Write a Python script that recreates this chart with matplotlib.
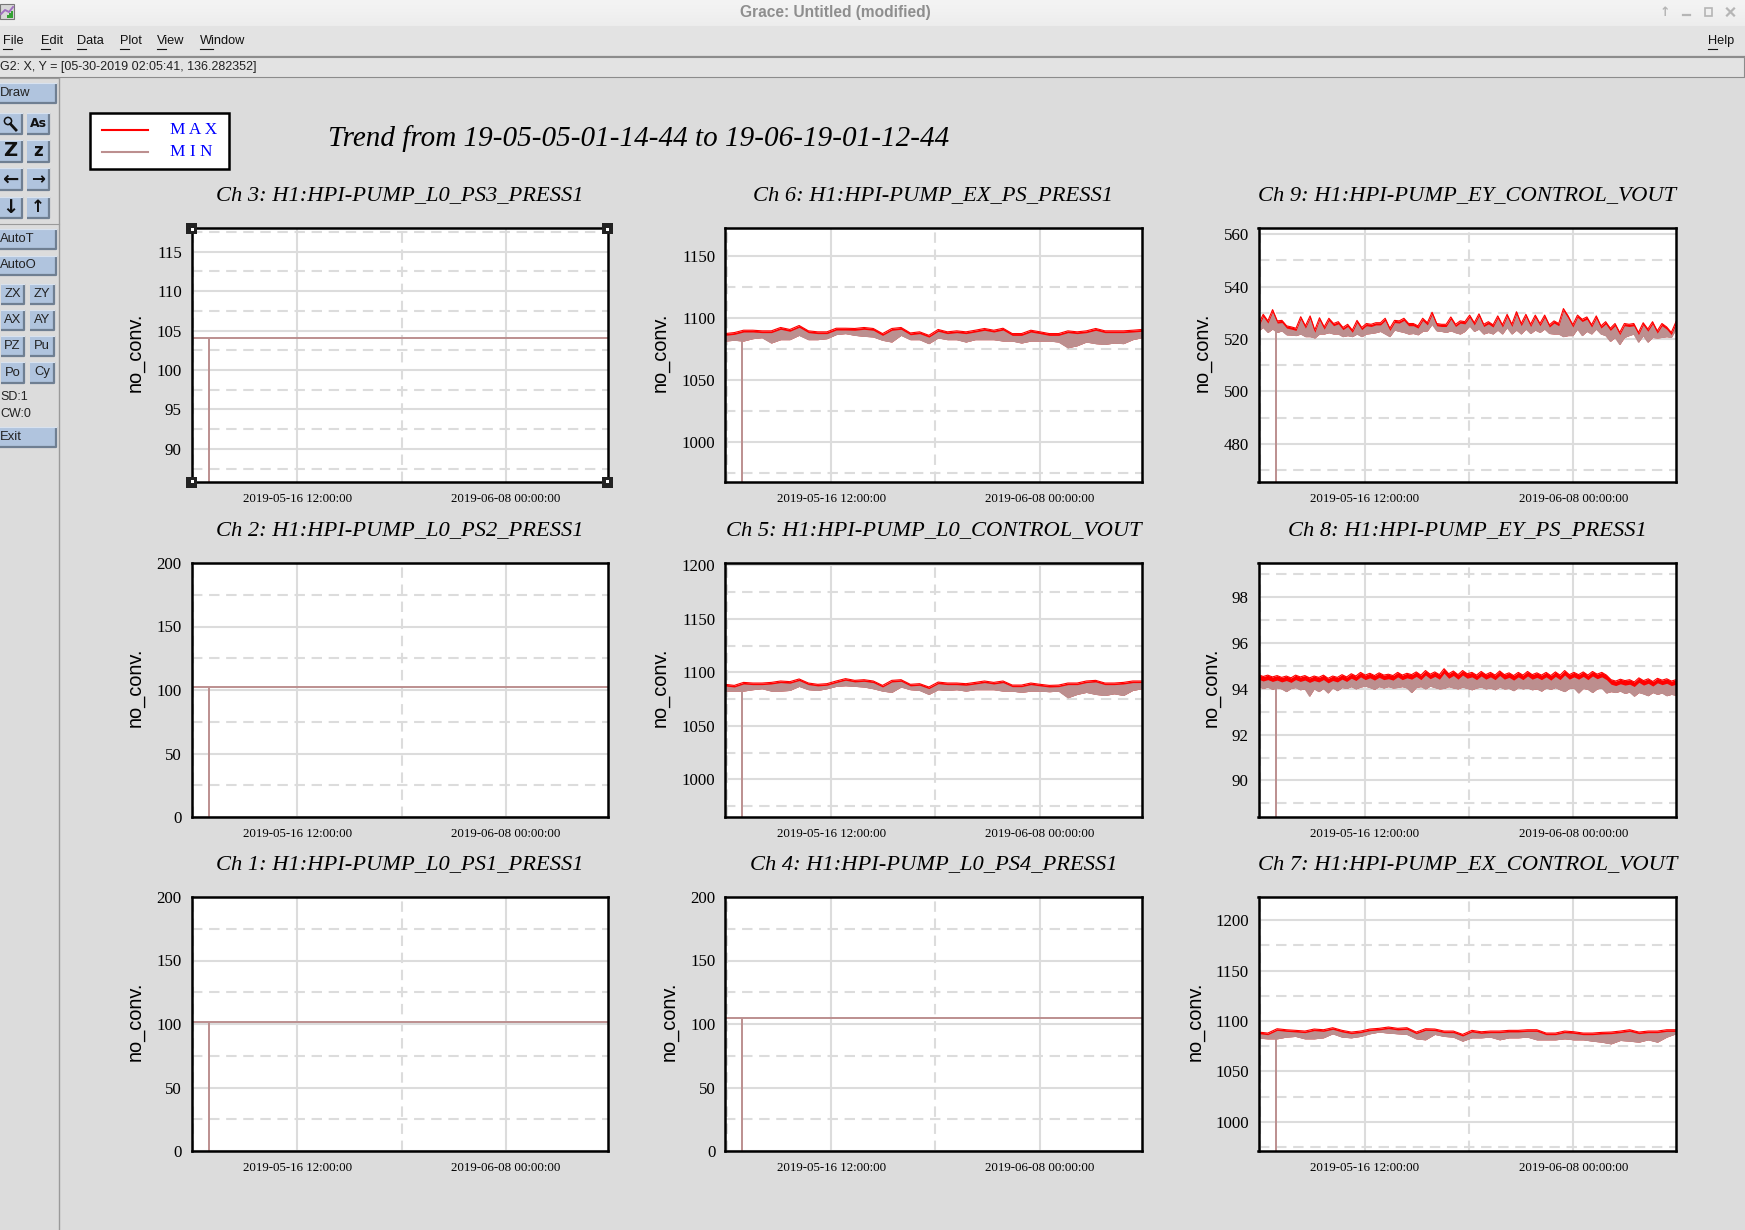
"""Grace window with the pump trend plots, 3x3 panels."""

from datetime import datetime

import matplotlib

matplotlib.use("Agg")
import matplotlib.dates as mdates
import matplotlib.pyplot as plt
import numpy as np
from matplotlib.patches import Circle, Rectangle

W, H = 1745, 1230

BG = "#dcdcdc"
MENU_BG = "#e3e3e3"
BUTTON = "#b0c4de"
MAX_COLOR = "#ff0000"
MIN_COLOR = "#bc8f8f"
SERIF = "Liberation Serif"
SANS = "Liberation Sans"

TITLE = "Trend from 19-05-05-01-14-44 to 19-06-19-01-12-44"

START = datetime(2019, 5, 5, 1, 14, 44)
END = datetime(2019, 6, 19, 1, 12, 44)
MAJOR_TICKS = [datetime(2019, 5, 16, 12), datetime(2019, 6, 8, 0)]
MINOR_TICKS = [datetime(2019, 5, 5, 6), datetime(2019, 5, 27, 18)]
DROPOUT_DAY = 1.87

# flat channels, only a level and the dropout
CH3_LEVEL = 104.0
CH2_LEVEL = 102.6
CH1_LEVEL = 101.8
CH4_LEVEL = 104.4

CH6_MAX = [1087.5, 1088.3, 1090.2, 1090.2, 1089.7, 1089.7, 1092.4, 1090.8, 1094.0, 1089.7, 1088.9, 1088.9,
           1091.8, 1091.8, 1091.6, 1092.4, 1091.6, 1087.5, 1091.6, 1092.4, 1088.0, 1088.9, 1086.1, 1090.8,
           1088.9, 1089.7, 1088.9, 1090.2, 1091.6, 1090.2, 1091.8, 1087.5, 1087.5, 1090.2, 1088.9, 1087.5,
           1087.5, 1089.7, 1088.9, 1089.7, 1091.6, 1089.7, 1089.7, 1089.7, 1090.2, 1090.8]
CH6_MIN = [1081.5, 1082.1, 1081.5, 1083.4, 1084.2, 1079.9, 1082.6, 1082.6, 1086.1, 1082.6, 1082.6, 1083.4,
           1086.7, 1087.5, 1086.1, 1085.3, 1084.8, 1082.1, 1080.7, 1086.1, 1082.6, 1082.6, 1079.4, 1084.0,
           1082.6, 1082.6, 1080.7, 1082.6, 1082.6, 1082.6, 1081.5, 1081.5, 1079.9, 1081.5, 1081.5, 1081.5,
           1080.7, 1076.1, 1077.7, 1080.7, 1079.4, 1078.8, 1079.9, 1079.4, 1082.6, 1084.2]

CH5_MAX = [1088.8, 1087.8, 1090.6, 1090.0, 1090.0, 1090.6, 1091.9, 1091.3, 1093.8, 1090.0, 1088.8, 1089.4,
           1091.9, 1094.1, 1092.5, 1093.1, 1091.9, 1087.8, 1092.5, 1093.1, 1088.8, 1089.4, 1086.3, 1090.9,
           1090.0, 1090.0, 1089.4, 1090.6, 1091.9, 1090.6, 1091.9, 1088.1, 1088.1, 1090.0, 1088.8, 1087.8,
           1088.1, 1090.0, 1090.0, 1091.9, 1092.5, 1090.0, 1090.0, 1090.6, 1091.9, 1091.9]
CH5_MIN = [1082.5, 1082.5, 1082.5, 1083.8, 1084.7, 1082.5, 1082.5, 1083.1, 1086.9, 1083.8, 1083.1, 1084.7,
           1086.9, 1087.5, 1086.9, 1086.3, 1084.7, 1082.5, 1081.3, 1086.3, 1083.8, 1083.1, 1079.4, 1083.8,
           1083.1, 1083.8, 1082.5, 1083.8, 1083.8, 1083.8, 1082.5, 1082.5, 1081.3, 1082.5, 1082.5, 1081.9,
           1082.5, 1076.3, 1079.4, 1081.3, 1079.4, 1078.4, 1080.0, 1078.4, 1083.1, 1084.7]

CH7_MAX = [1089.0, 1088.0, 1092.3, 1091.3, 1090.7, 1090.0, 1092.0, 1091.3, 1093.3, 1090.7, 1089.0, 1090.0,
           1092.0, 1092.7, 1094.0, 1092.7, 1093.3, 1089.0, 1092.3, 1092.0, 1090.0, 1090.0, 1086.7, 1090.7,
           1089.3, 1090.0, 1090.0, 1090.7, 1090.7, 1091.3, 1091.3, 1088.0, 1088.0, 1090.0, 1089.3, 1088.0,
           1088.0, 1088.7, 1089.0, 1090.0, 1091.3, 1089.0, 1090.0, 1090.0, 1091.3, 1091.3]
CH7_MIN = [1083.0, 1082.3, 1082.3, 1084.0, 1084.7, 1082.3, 1082.3, 1083.3, 1087.3, 1084.0, 1083.3, 1084.7,
           1087.3, 1089.0, 1088.0, 1087.3, 1086.7, 1082.3, 1081.3, 1086.7, 1084.7, 1084.0, 1080.0, 1083.3,
           1083.3, 1084.0, 1081.3, 1083.3, 1083.3, 1084.0, 1081.3, 1081.3, 1081.3, 1082.3, 1081.3, 1081.3,
           1080.0, 1079.0, 1077.3, 1080.7, 1080.0, 1079.0, 1081.3, 1079.0, 1084.0, 1087.3]

CH8_MAX = [94.62, 94.54, 94.60, 94.52, 94.58, 94.50, 94.56, 94.48, 94.60, 94.52, 94.58, 94.48, 94.56, 94.50,
           94.60, 94.46, 94.56, 94.50, 94.62, 94.52, 94.66, 94.56, 94.72, 94.60, 94.68, 94.58, 94.70, 94.60,
           94.64, 94.58, 94.72, 94.60, 94.68, 94.62, 94.74, 94.60, 94.80, 94.64, 94.74, 94.62, 94.88, 94.66,
           94.78, 94.62, 94.80, 94.66, 94.72, 94.60, 94.76, 94.62, 94.72, 94.60, 94.78, 94.62, 94.70, 94.58,
           94.72, 94.60, 94.76, 94.62, 94.70, 94.60, 94.72, 94.58, 94.74, 94.60, 94.80, 94.62, 94.72, 94.62,
           94.74, 94.60, 94.76, 94.64, 94.72, 94.60, 94.40, 94.34, 94.42, 94.36, 94.40, 94.30, 94.48, 94.36,
           94.44, 94.32, 94.46, 94.38, 94.44, 94.34, 94.40]
CH8_MIN = [94.10, 94.02, 94.08, 93.98, 94.05, 94.00, 93.88, 94.02, 94.06, 93.96, 94.00, 93.68, 94.00, 93.88,
           94.02, 93.82, 94.05, 93.92, 94.06, 94.02, 94.10, 94.00, 94.08, 94.12, 94.06, 93.98, 94.10, 94.04,
           94.10, 94.04, 94.06, 94.10, 94.04, 93.84, 94.06, 94.10, 94.00, 94.12, 94.06, 94.00, 94.02, 94.10,
           94.04, 94.00, 94.08, 94.02, 93.96, 94.04, 94.08, 94.00, 94.04, 93.96, 94.08, 94.00, 94.02, 93.92,
           94.06, 94.00, 94.04, 93.96, 94.00, 93.90, 94.04, 93.98, 94.06, 93.96, 93.88, 94.02, 94.04, 93.82,
           94.02, 93.98, 93.84, 94.00, 94.04, 93.82, 93.88, 93.84, 93.90, 93.80, 93.86, 93.68, 93.84, 93.78,
           93.70, 93.84, 93.76, 93.82, 93.70, 93.76, 93.72]

CH9_MAX = [525.6, 529.4, 526.9, 531.2, 526.9, 527.1, 525.0, 524.6, 524.1, 528.5, 525.0, 528.8, 523.4, 528.1,
           524.6, 527.9, 525.9, 526.6, 524.4, 525.6, 523.4, 527.1, 524.4, 525.9, 525.6, 526.2, 526.2, 527.9,
           524.1, 527.1, 526.9, 527.9, 525.9, 525.9, 525.0, 527.9, 526.2, 530.2, 525.9, 525.6, 525.6, 528.4,
           525.6, 526.9, 526.6,
           529.1, 526.2, 529.6, 525.6, 526.6, 525.4, 528.8, 525.4, 529.4, 525.6, 530.4, 525.9, 529.4, 525.6,
           529.1, 525.9, 529.1, 525.4, 526.9, 525.9, 531.6, 528.8, 525.4, 529.1, 527.5, 528.4, 525.4, 528.8,
           525.0, 526.6, 524.1, 525.9, 522.5, 525.9, 525.6, 525.9, 522.5, 526.2, 523.8, 526.6, 523.1, 525.9,
           524.6, 522.5, 526.6]
CH9_MIN = [523.1, 524.4, 522.5, 523.8, 522.5, 523.1, 521.6, 521.5, 521.3, 521.9, 520.9, 520.9, 520.4, 521.9,
           521.9, 522.4, 521.9, 521.9, 520.9, 521.3, 520.9, 521.9, 520.9, 521.9, 522.1, 522.4, 522.9, 521.9,
           520.9, 523.4, 522.9, 522.5, 521.9, 522.1, 521.6, 522.9, 523.1, 525.6, 523.1, 522.9, 522.5, 523.1,
           522.4, 521.9, 522.9,
           525.0, 522.9, 523.8, 521.9, 522.5, 521.9, 523.4, 521.9, 524.4, 521.9, 523.4, 521.9, 523.8, 522.1,
           523.4, 522.5, 523.8, 522.1, 521.9, 521.9, 520.9, 521.3, 521.3, 523.8, 521.3, 522.9, 521.9, 523.8,
           521.9, 521.3, 519.1, 520.6, 517.9, 520.6, 521.3, 521.9, 518.8, 521.3, 518.8, 520.6, 520.4, 520.6,
           520.9, 520.6, 523.8]

# name, pixel box (left, top, right, bottom), ylim, major step, ylabel x pixel, level or max, min, red px
PANELS = [
    ("Ch 3: H1:HPI-PUMP_L0_PS3_PRESS1", (191.5, 228, 608, 482), (85.8, 118.0), 5, 135, CH3_LEVEL, None, 0),
    ("Ch 6: H1:HPI-PUMP_EX_PS_PRESS1", (725, 228, 1142, 482), (968, 1172.5), 50, 660, CH6_MAX, CH6_MIN, 1.8),
    ("Ch 9: H1:HPI-PUMP_EY_CONTROL_VOUT", (1258.5, 228, 1676, 482), (465.5, 562.3), 20, 1202, CH9_MAX, CH9_MIN, 2.2),
    ("Ch 2: H1:HPI-PUMP_L0_PS2_PRESS1", (191.5, 563, 608, 817), (0, 200), 50, 135, CH2_LEVEL, None, 0),
    ("Ch 5: H1:HPI-PUMP_L0_CONTROL_VOUT", (725, 563, 1142, 817), (965, 1202), 50, 660, CH5_MAX, CH5_MIN, 1.6),
    ("Ch 8: H1:HPI-PUMP_EY_PS_PRESS1", (1258.5, 563, 1676, 817), (88.4, 99.5), 2, 1211, CH8_MAX, CH8_MIN, 4.5),
    ("Ch 1: H1:HPI-PUMP_L0_PS1_PRESS1", (191.5, 897, 608, 1151), (0, 200), 50, 135, CH1_LEVEL, None, 0),
    ("Ch 4: H1:HPI-PUMP_L0_PS4_PRESS1", (725, 897, 1142, 1151), (0, 200), 50, 669, CH4_LEVEL, None, 0),
    ("Ch 7: H1:HPI-PUMP_EX_CONTROL_VOUT", (1258.5, 897, 1676, 1151), (971, 1223), 50, 1195, CH7_MAX, CH7_MIN, 1.6),
]


def button(bg, x0, y0, x1, y1, label=None, size=9.4):
    bg.add_patch(Rectangle((x0, y0), x1 - x0, y1 - y0, fc=BUTTON, ec="none"))
    bg.plot([x0, x1, x1], [y1, y1, y0], color="#6f7f92", lw=1.6, solid_capstyle="butt")
    bg.plot([x0, x1], [y0, y0], color="#d8e2ef", lw=0.8)
    if label:
        bg.text(x0 if x0 == 0 else (x0 + x1) / 2, (y0 + y1) / 2, label, fontsize=size, family=SANS,
                va="center", ha="left" if x0 == 0 else "center", color="#222222")


def draw_chrome(bg):
    # title bar
    bg.imshow(np.linspace(0.955, 0.925, 26).reshape(-1, 1), extent=(0, W, 26, 0), aspect="auto",
              cmap="gray", vmin=0, vmax=1, zorder=0)
    bg.set_xlim(0, W)
    bg.set_ylim(H, 0)
    bg.add_patch(Rectangle((0, 26), W, 52, fc=MENU_BG, ec="none"))
    bg.plot([0, W], [55.5, 55.5], color="#8c8c8c", lw=0.9)
    bg.plot([0, W - 1, W - 1, 0], [56.5, 56.5, 76.5, 76.5], color="#8c8c8c", lw=0.8)
    bg.text(835, 13, "Grace: Untitled (modified)", fontsize=11.2, weight="bold", family=SANS, color="#8e8e8e",
            ha="center", va="center")
    # app icon
    bg.add_patch(Rectangle((0, 4), 14, 15, fc="#d8d8d8", ec="#777777", lw=0.8))
    bg.plot([1, 5, 9, 13], [14, 10, 12, 7], color="#a070c0", lw=1.4)
    bg.vlines([8, 10, 12], [15, 13, 11], 18, color="#30a030", lw=1.4)
    bg.text(1665, 12, "\u2191", fontsize=9, weight="bold", color="#b5b5b5", ha="center", va="center")
    bg.plot([1683, 1690], [15, 15], color="#b5b5b5", lw=1.6)
    bg.add_patch(Rectangle((1705.5, 8), 7, 7.5, fc="none", ec="#b5b5b5", lw=1.2))
    bg.plot([1727, 1734], [8.5, 15.5], color="#b5b5b5", lw=1.6)
    bg.plot([1727, 1734], [15.5, 8.5], color="#b5b5b5", lw=1.6)

    for label, x in zip(["File", "Edit", "Data", "Plot", "View", "Window", "Help"],
                        [3, 41, 77, 120, 157, 200, 1708]):
        bg.text(x, 41, label, fontsize=9.2, family=SANS, color="#111111", va="center")
        bg.plot([x, x + (13 if label == "Window" else 9)], [48.5, 48.5], color="#111111", lw=0.8)
    bg.text(0, 67, "G2: X, Y = [05-30-2019 02:05:41, 136.282352]", fontsize=9.0, family=SANS, color="#222222",
            va="center")

    # tool panel down the left
    bg.plot([59.5, 59.5], [78, H], color="#9a9a9a", lw=1)
    bg.plot([0, 59.5], [78, 78], color="#9a9a9a", lw=0.8)
    bg.plot([0, 59.5], [224, 224], color="#9a9a9a", lw=0.8)
    button(bg, 0, 83, 56, 103, "Draw")
    rows = [(113, 134), (140, 162), (168, 190), (197, 218)]
    glyphs = [("", "As"), ("Z", "z"), ("\u2190", "\u2192"), ("\u2193", "\u2191")]
    for (y0, y1), (left, right) in zip(rows, glyphs):
        button(bg, 0, y0, 22, y1)
        button(bg, 27, y0, 49, y1)
        ym = (y0 + y1) / 2
        bg.text(10, ym, left, fontsize=14, weight="bold", family="DejaVu Sans", color="#111111", ha="center",
                va="center")
        bg.text(38, ym, right, fontsize=9 if right == "As" else 12, weight="bold", family="DejaVu Sans",
                color="#111111", ha="center", va="center")
    # magnifier
    bg.add_patch(Circle((8, 121), 3.6, fc="none", ec="#111111", lw=1.1))
    bg.plot([10.5, 16], [124, 130], color="#111111", lw=2)
    button(bg, 0, 229, 56, 249, "AutoT")
    button(bg, 0, 256, 56, 275, "AutoO")
    for (y0, y1), (left, right) in zip([(284, 304), (310, 330), (336, 356), (362, 383)],
                                       [("ZX", "ZY"), ("AX", "AY"), ("PZ", "Pu"), ("Po", "Cy")]):
        button(bg, 1, y0, 24, y1, left)
        button(bg, 30, y0, 54, y1, right)
    bg.text(0, 397, "SD:1", fontsize=9, family=SANS, color="#222222", va="center")
    bg.text(0, 414, "CW:0", fontsize=9, family=SANS, color="#222222", va="center")
    button(bg, 0, 427, 56, 447, "Exit")

    # legend box
    bg.add_patch(Rectangle((90, 113), 139, 56, fc="white", ec="black", lw=1.8, zorder=3))
    bg.plot([102, 148], [129.5, 129.5], color=MAX_COLOR, lw=1.5, zorder=4)
    bg.plot([102, 148], [152, 152], color=MIN_COLOR, lw=1.5, zorder=4)
    bg.text(170, 130, "M A X", fontsize=12.4, family=SERIF, color="blue", va="center", zorder=4)
    bg.text(170, 152.5, "M I N", fontsize=12.4, family=SERIF, color="blue", va="center", zorder=4)

    bg.text(328, 139, TITLE, fontsize=21, family=SERIF, style="italic", color="black", va="center")


def draw_panel(fig, bg, name, box, ylim, step, label_x, maxs, mins, red_px):
    left, top, right, bottom = box
    ax = fig.add_axes([left / W, 1 - bottom / H, (right - left) / W, (bottom - top) / H], zorder=2)
    ax.set_xlim(mdates.date2num(START), mdates.date2num(END))
    ax.set_ylim(*ylim)

    first = np.ceil(ylim[0] / step) * step
    majors = np.arange(first, ylim[1] + step * 0.01, step)
    minors = np.arange(first - step / 2, ylim[1], step)
    minors = minors[minors > ylim[0]]
    ax.set_yticks(majors)
    ax.set_yticks(minors, minor=True)
    ax.set_xticks(mdates.date2num(MAJOR_TICKS))
    ax.set_xticks(mdates.date2num(MINOR_TICKS), minor=True)
    ax.xaxis.set_major_formatter(mdates.DateFormatter("%Y-%m-%d %H:%M:%S"))
    ax.yaxis.set_major_formatter(lambda v, _: f"{v:g}")
    ax.tick_params(which="both", length=0)
    ax.tick_params(axis="x", labelsize=9.25, pad=8)
    ax.tick_params(axis="y", labelsize=12.2, pad=7)
    for lab in ax.get_xticklabels() + ax.get_yticklabels():
        lab.set_family(SERIF)
    ax.grid(which="major", color=BG, lw=1.5)
    ax.grid(which="minor", color=BG, lw=1.5, linestyle=(0, (5, 3.2)))
    ax.set_axisbelow(True)
    for sp in ax.spines.values():
        sp.set_linewidth(1.8)

    x0 = mdates.date2num(START)
    span = mdates.date2num(END) - x0
    drop = x0 + DROPOUT_DAY
    if mins is None:
        ax.plot([x0, x0 + span], [maxs, maxs], color=MIN_COLOR, lw=1.4)
        ax.vlines(drop, ylim[0], maxs, color=MIN_COLOR, lw=1.4)
    else:
        hi = np.array(maxs, float)
        lo = np.array(mins, float)
        days = x0 + np.linspace(0, span, len(hi))
        # red only shows as a thin rim over the MIN band
        red = red_px * (ylim[1] - ylim[0]) / (bottom - top)
        ax.vlines(drop, ylim[0], np.interp(drop, days, lo), color=MIN_COLOR, lw=1.4)
        ax.fill_between(days, lo, hi, color=MAX_COLOR, lw=0)
        ax.plot(days, hi, color=MAX_COLOR, lw=0.8)
        ax.fill_between(days, lo, np.maximum(lo, hi - red), color=MIN_COLOR, lw=0)
        ax.plot(days, lo, color=MIN_COLOR, lw=0.8)

    bg.text((left + right) / 2, top - 32, name, fontsize=16.2, family=SERIF, style="italic", color="black",
            ha="center", va="center")
    bg.text(label_x, (top + bottom) / 2 - 3, "no_conv.", fontsize=14.4, family=SANS, color="black", rotation=90,
            ha="center", va="center")
    return ax


def main() -> None:
    fig = plt.figure(figsize=(W / 100, H / 100), dpi=100, facecolor=BG)
    bg = fig.add_axes([0, 0, 1, 1], zorder=0)
    bg.axis("off")
    bg.set_xlim(0, W)
    bg.set_ylim(H, 0)
    draw_chrome(bg)

    for name, box, ylim, step, label_x, maxs, mins, red_px in PANELS:
        draw_panel(fig, bg, name, box, ylim, step, label_x, maxs, mins, red_px)

    # selection handles around the focused graph
    left, top, right, bottom = PANELS[0][1]
    over = fig.add_axes([0, 0, 1, 1], zorder=5)
    over.axis("off")
    over.set_xlim(0, W)
    over.set_ylim(H, 0)
    for cx, sx in ((left, 1), (right, -1)):
        for cy, sy in ((top, 1), (bottom, -1)):
            over.add_patch(Rectangle((cx - 5.5, cy - 5.5), 11, 11, fc="#222222", ec="none"))
            over.add_patch(Rectangle((cx + sx - 1, cy + sy - 1), 3, 3, fc="white", ec="none"))

    fig.savefig("out.png", dpi=100, facecolor=BG)


if __name__ == "__main__":
    main()
